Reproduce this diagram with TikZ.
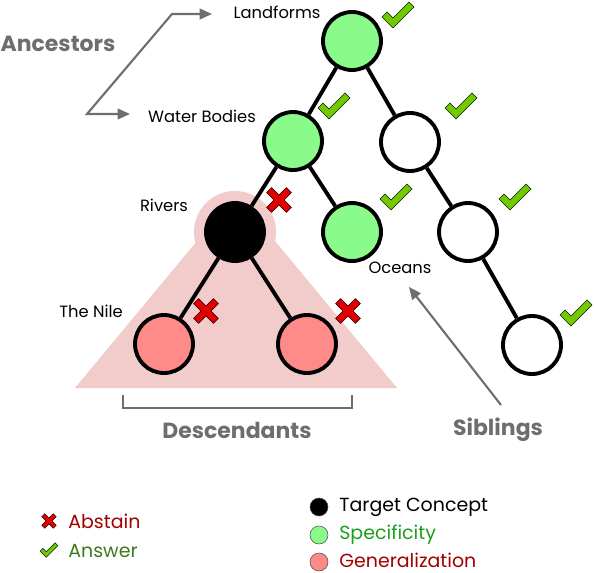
\documentclass[tikz,border=0pt]{standalone}
\usepackage{fontspec}
\setmainfont{Poppins}
\usetikzlibrary{arrows.meta}
\definecolor{nodegreen}{HTML}{8AFA8A}
\definecolor{nodepink}{HTML}{FF8A8A}
\definecolor{tripink}{HTML}{F2CBCB}
\definecolor{annogray}{HTML}{6E6E6E}
\definecolor{checkgreen}{HTML}{74C800}
\definecolor{crossred}{HTML}{E00000}
\definecolor{abstainred}{HTML}{A30000}
\definecolor{answergreen}{HTML}{3D7A1E}
\definecolor{specgreen}{HTML}{1E9E1E}
\tikzset{
  concept/.style={circle, draw=black, line width=2.2pt, minimum size=1.16cm, inner sep=0pt},
  edge/.style={line width=2.2pt, black},
  lbl/.style={font=\fontsize{9.3}{11}\selectfont, inner sep=0pt},
  anno/.style={font=\fontsize{12.5}{15}\selectfont\bfseries, text=annogray, inner sep=0pt},
  annoarrow/.style={draw=annogray, line width=1.2pt, -{Triangle[length=7pt,width=6pt]}},
  legtext/.style={font=\fontsize{10.8}{13}\selectfont, inner sep=0pt, anchor=west},
  legdot/.style={circle, draw=black!70, line width=0.3pt, minimum size=0.36cm, inner sep=0pt},
  checkmark/.pic={\fill[checkgreen, draw=black!70!green!40!black, line width=0.3pt]
     (-16,2) -- (-11,-3) -- (-5,3) -- (11,-13) -- (16,-8) -- (-5,13) -- cycle;},
  crossmark/.pic={\begin{scope}[rotate=45]\fill[crossred, draw=black!60!red!40!black, line width=0.3pt]
     (3.6,3.6) -- (3.6,14) -- (-3.6,14) -- (-3.6,3.6) -- (-14,3.6) -- (-14,-3.6) -- (-3.6,-3.6) -- (-3.6,-14) -- (3.6,-14) -- (3.6,-3.6) -- (14,-3.6) -- (14,3.6) -- cycle;\end{scope}},
}
\begin{document}
\begin{tikzpicture}[x=0.02cm,y=-0.02cm]
\useasboundingbox (0,0) rectangle (594,572);
% background triangle with halo
\fill[tripink] (75,388) -- (236,194) -- (397,388) -- cycle;
\fill[tripink] (235,232) circle (41);
% nodes
\node[concept, fill=nodegreen] (land) at (352,41) {};
\node[concept, fill=nodegreen] (water) at (293,141) {};
\node[concept, fill=white] (r2) at (410,142) {};
\node[concept, fill=black] (rivers) at (235,232) {};
\node[concept, fill=nodegreen] (oceans) at (352,232) {};
\node[concept, fill=white] (r3) at (468,232) {};
\node[concept, fill=nodepink] (nile) at (164,344) {};
\node[concept, fill=nodepink] (p2) at (307,344) {};
\node[concept, fill=white] (r4) at (532,345) {};
% edges
\draw[edge] (land) -- (water);
\draw[edge] (land) -- (r2);
\draw[edge] (water) -- (rivers);
\draw[edge] (water) -- (oceans);
\draw[edge] (r2) -- (r3);
\draw[edge] (rivers) -- (nile);
\draw[edge] (rivers) -- (p2);
\draw[edge] (r3) -- (r4);
% labels
\node[lbl] (tland) at (277,12) {Landforms};
\node[lbl] (twater) at (202,116) {Water Bodies};
\node[lbl] (trivers) at (164,205) {Rivers};
\node[lbl] (tnile) at (91,311) {The Nile};
\node[lbl] (toceans) at (400,268) {Oceans};
% checks and crosses
\pic at (398,15) {checkmark};
\pic at (334,106) {checkmark};
\pic at (461,106) {checkmark};
\pic at (396,197) {checkmark};
\pic at (515,197) {checkmark};
\pic at (576,313) {checkmark};
\pic at (279,200) {crossmark};
\pic at (206,311) {crossmark};
\pic at (348,311) {crossmark};
% annotations
\node[anno] (anc) at (58,44) {Ancestors};
\coordinate (ancA) at (212,14);
\coordinate (ancB) at (130,114);
\draw[annoarrow, {Triangle[length=7pt,width=6pt]}-{Triangle[length=7pt,width=6pt]}] (ancA) -- (172,14) -- (87,114) -- (ancB);
\node[anno] (sib) at (498,430) {Siblings};
\coordinate (sibtip) at (409,287);
\draw[annoarrow] (501,405) -- (sibtip);
\node[anno] (desc) at (237,430) {Descendants};
\draw[annogray, line width=1.2pt] (123,395) -- (123,408) -- (352,408) -- (352,395);
% legend
\pic[scale=0.58] at (49,521) {crossmark};
\node[legtext, text=abstainred] (abs) at (68,521) {Abstain};
\pic[scale=0.55] at (49,550) {checkmark};
\node[legtext, text=answergreen] (ans) at (68,551) {Answer};
\node[legdot, fill=black] (dt) at (319,507) {};
\node[legtext] (ltc) at (339,507) {Target Concept};
\node[legdot, fill=nodegreen] (dg) at (319,535) {};
\node[legtext, text=specgreen] (lsp) at (339,535) {Specificity};
\node[legdot, fill=nodepink] (dp) at (319,562) {};
\node[legtext, text=abstainred] (lge) at (339,560) {Generalization};
\end{tikzpicture}
\end{document}
